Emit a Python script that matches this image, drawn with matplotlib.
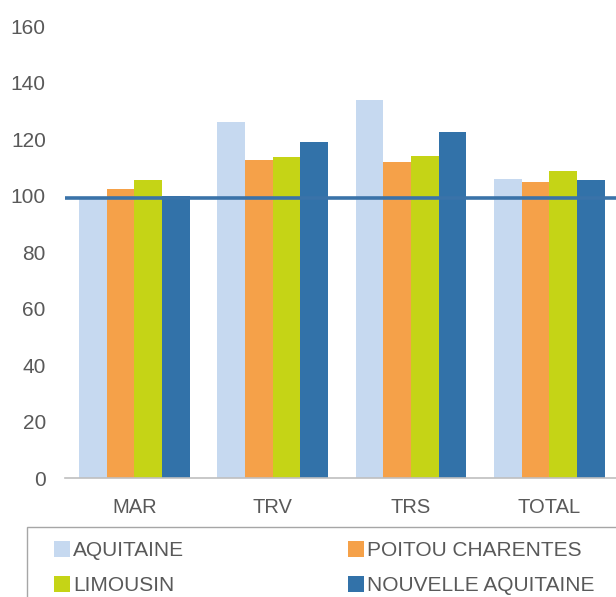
import matplotlib
matplotlib.use("Agg")
import matplotlib.pyplot as plt
from matplotlib.patches import Rectangle, Patch
import numpy as np

categories = ["MAR", "TRV", "TRS", "TOTAL"]
series_names = ["AQUITAINE", "POITOU CHARENTES", "LIMOUSIN", "NOUVELLE AQUITAINE"]
aquitaine = [99.0, 126.1, 133.8, 105.8]
poitou = [102.5, 112.8, 112.1, 105.0]
limousin = [105.5, 113.6, 114.2, 108.7]
nouvelle = [100.0, 119.0, 122.4, 105.5]
reference_level = 99.1
yticks = [0, 20, 40, 60, 80, 100, 120, 140, 160]

colors = ["#C6D9F0", "#F5A149", "#C5D416", "#3272A9"]
text_color = "#595959"
plt.rcParams['font.family'] = ['Liberation Sans', 'DejaVu Sans']

fig = plt.figure(figsize=(6.16, 5.97), dpi=100)
ax = fig.add_axes([0.106, 0.199, 0.898, 0.757])

x = np.arange(len(categories))
w = 0.2
all_series = [aquitaine, poitou, limousin, nouvelle]
for i, (vals, c) in enumerate(zip(all_series, colors)):
    ax.bar(x + (i - 1.5) * w, vals, width=w, color=c, zorder=2, label=series_names[i])

ax.axhline(reference_level, color="#3A73A9", lw=2.6, zorder=3)

ax.set_xlim(-0.5, 3.5)
ax.set_ylim(0, 160)
ax.set_yticks(yticks)
ax.set_xticks(x)
ax.set_xticklabels(categories)
ax.tick_params(axis='both', length=0, colors=text_color, labelsize=14.5)
ax.tick_params(axis='y', labelsize=15, pad=14)
ax.tick_params(axis='x', pad=14)
for s in ["top", "right", "left"]:
    ax.spines[s].set_visible(False)
ax.spines["bottom"].set_color("#BFBFBF")
ax.spines["bottom"].set_linewidth(1.2)

# legend frame
fig.patches.append(Rectangle((27/616, -0.02), 1.0, (597-527)/597 + 0.02,
                             transform=fig.transFigure, fill=False,
                             edgecolor="#A6A6A6", lw=1.0))
handles = [Patch(facecolor=c, edgecolor='none') for c in colors]
order = [0, 2, 1, 3]  # row-wise filling: AQUITAINE, POITOU / LIMOUSIN, NOUVELLE
leg = fig.legend([handles[k] for k in order], [series_names[k] for k in order],
                 ncol=2, loc="upper left",
                 bbox_to_anchor=(35/616, 1 - 522/597), frameon=False,
                 handlelength=0.8, handleheight=0.8, handletextpad=0.12,
                 columnspacing=7.85, labelspacing=0.75, fontsize=15,
                 labelcolor=text_color)

fig.savefig("out.png", dpi=100)
